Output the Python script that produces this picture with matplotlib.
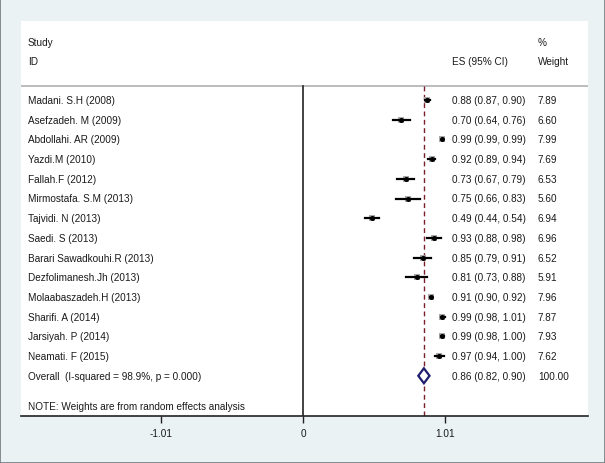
import matplotlib
matplotlib.use("Agg")
import matplotlib.pyplot as plt
import numpy as np

studies = ["Madani. S.H (2008)", "Asefzadeh. M (2009)", "Abdollahi. AR (2009)",
           "Yazdi.M (2010)", "Fallah.F (2012)", "Mirmostafa. S.M (2013)",
           "Tajvidi. N (2013)", "Saedi. S (2013)", "Barari Sawadkouhi.R (2013)",
           "Dezfolimanesh.Jh (2013)", "Molaabaszadeh.H (2013)", "Sharifi. A (2014)",
           "Jarsiyah. P (2014)", "Neamati. F (2015)"]
es = [0.88, 0.70, 0.99, 0.92, 0.73, 0.75, 0.49, 0.93, 0.85, 0.81, 0.91, 0.99, 0.99, 0.97]
lo = [0.87, 0.64, 0.99, 0.89, 0.67, 0.66, 0.44, 0.88, 0.79, 0.73, 0.90, 0.98, 0.98, 0.94]
hi = [0.90, 0.76, 0.99, 0.94, 0.79, 0.83, 0.54, 0.98, 0.91, 0.88, 0.92, 1.01, 1.00, 1.00]
weights = [7.89, 6.60, 7.99, 7.69, 6.53, 5.60, 6.94, 6.96, 6.52, 5.91, 7.96, 7.87, 7.93, 7.62]
overall_label = "Overall  (I-squared = 98.9%, p = 0.000)"
overall = (0.86, 0.82, 0.90)
overall_weight = "100.00"
ticks = [-1.01, 0, 1.01]
tick_labels = ["-1.01", "0", "1.01"]
note = "NOTE: Weights are from random effects analysis"

plt.rcParams.update({"font.family": ["Liberation Sans", "DejaVu Sans"], "font.size": 7.2,
                     "text.color": "#1a1a1a"})

W, H = 605, 464
fig = plt.figure(figsize=(W / 100, H / 100), dpi=100, facecolor="#eaf2f4")
fig.patches.append(plt.Rectangle((0, 0), 1, 1, transform=fig.transFigure,
                                 fill=False, edgecolor="#707c80", linewidth=1.2))

x0, x1, ytop, ybot = 21, 588, 22, 417
ax = fig.add_axes([x0 / W, (H - ybot) / H, (x1 - x0) / W, (ybot - ytop) / H])
ax.set_facecolor("white")
px = 140.6  # pixels per unit
ax.set_xlim((x0 - 303) / px, (x1 - 303) / px)
row = 19.7
ax.set_ylim((ybot - 101) / row, (ytop - 101) / row)
for s in ["top", "left", "right"]:
    ax.spines[s].set_visible(False)
ax.spines["bottom"].set_color("#222222")
ax.spines["bottom"].set_linewidth(1.2)
ax.set_yticks([])
ax.set_xticks(ticks)
ax.set_xticklabels(tick_labels)
ax.tick_params(axis="x", length=5, width=1, color="#222222", pad=4, labelsize=7.2,
               labelcolor="#1a1a1a")

hdr = (87 - 101) / row
yb = (ybot - 101) / row
ax.axhline(hdr, color="#b0b0b0", linewidth=1.2)
ax.plot([0, 0], [hdr, yb], color="#222222", linewidth=1.2)
ax.plot([overall[0]] * 2, [hdr, yb], color="#7a1f2b", linewidth=1,
        linestyle=(0, (3.5, 2.5)))

tx_study = (28 - 303) / px
tx_es = (452 - 303) / px
tx_w = (538 - 303) / px
ax.text(tx_study, (43 - 101) / row, "Study", va="center")
ax.text(tx_study, (62 - 101) / row, "ID", va="center")
ax.text(tx_es, (62 - 101) / row, "ES (95% CI)", va="center")
ax.text(tx_w, (43 - 101) / row, "%", va="center")
ax.text(tx_w, (62 - 101) / row, "Weight", va="center")

for i, (name, e, l, h, w) in enumerate(zip(studies, es, lo, hi, weights)):
    ax.plot([e], [i], marker="s", markersize=4.8 * np.sqrt(w / 7.9),
            color="#a8a8a8", markeredgewidth=0, zorder=2)
    ax.plot([l, h], [i, i], color="black", linewidth=1.6, zorder=3)
    ax.plot([e], [i], marker="o", markersize=2.6, color="black", zorder=4)
    ax.text(tx_study, i, name, va="center")
    ax.text(tx_es, i, f"{e:.2f} ({l:.2f}, {h:.2f})", va="center")
    ax.text(tx_w, i, f"{w:.2f}", va="center")

n = len(studies)
m, ml, mh = overall
dh = 0.38
ax.fill([ml, m, mh, m, ml], [n, n - dh, n, n + dh, n], facecolor="white",
        edgecolor="#1e1e6e", linewidth=1.6, zorder=5)
ax.text(tx_study, n, overall_label, va="center")
ax.text(tx_es, n, f"{m:.2f} ({ml:.2f}, {mh:.2f})", va="center")
ax.text(tx_w, n, overall_weight, va="center")
ax.text(tx_study, (407 - 101) / row, note, va="center")

fig.savefig("out.png", dpi=100, facecolor=fig.get_facecolor())
